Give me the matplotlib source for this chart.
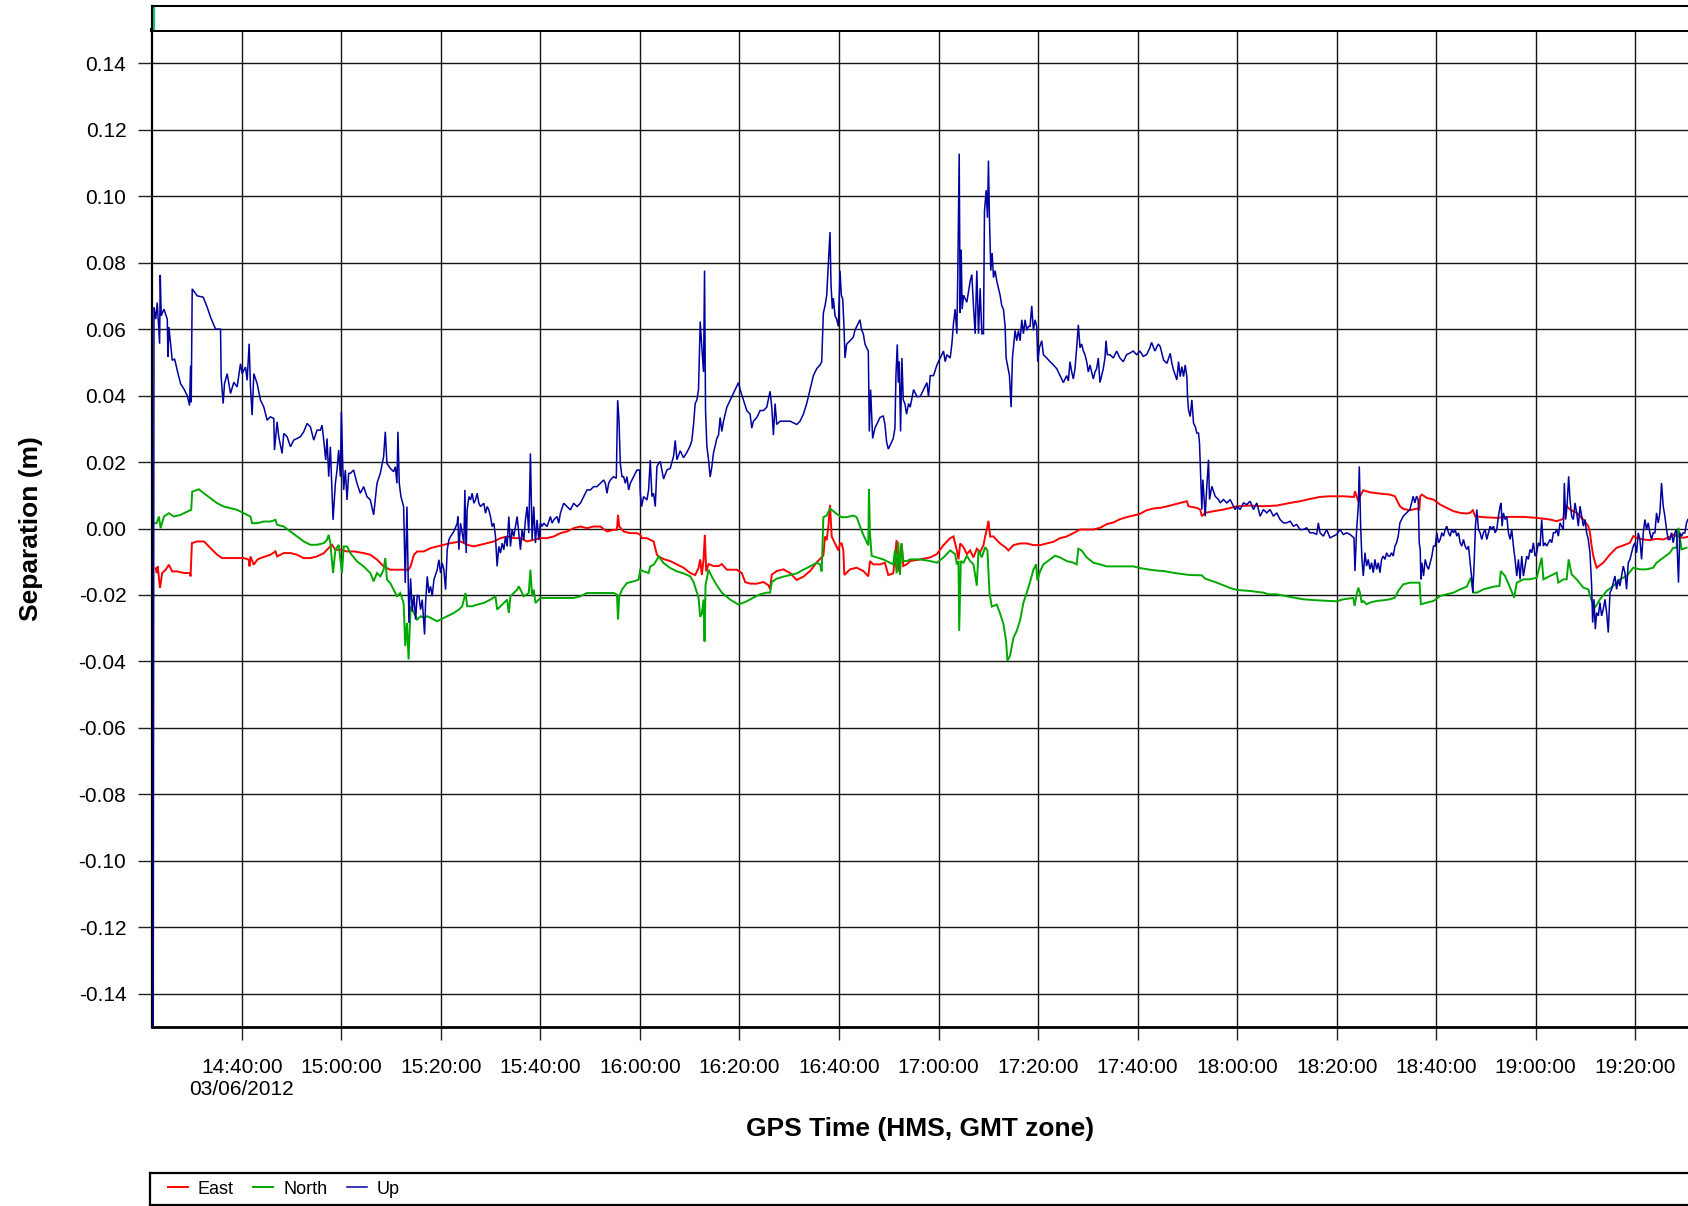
import numpy as np
import pandas as pd
import matplotlib
matplotlib.use("Agg")
import matplotlib.pyplot as plt
from matplotlib.ticker import FixedLocator, FormatStrFormatter

plt.rcParams['font.family'] = ['Liberation Sans', 'DejaVu Sans']

# ---------------- data ----------------
DATE = "2012-06-03"
date_label = "03/06/2012"
start_clock = "14:00:00"          # minutes below are counted from this clock time

east_min = [22.7, 22.9, 23.1, 23.55, 24.0, 24.7, 25.35, 26.0, 27.0, 28.4, 29.57, 29.7, 29.97, 31.0, 32.4, 33.7,
            35.05, 36.05, 37.7, 39.1, 40.4, 41.4, 41.54, 41.74, 42.4, 43.1, 43.75, 45.75, 46.76, 47.1, 48.4, 49.8,
            51.1, 52.4, 53.8, 55.1, 56.5, 57.1, 58.13, 58.8, 59.8, 61.1, 62.5, 64.5, 65.8, 67.2, 68.5, 69.8, 71.2,
            72.5, 73.5, 73.91, 74.58, 75.25, 76.59, 77.93, 79.26, 80.6, 81.94, 83.95, 85.28, 86.62, 87.96, 89.3,
            90.64, 91.97, 93.31, 94.65, 95.99, 97.32, 98.66, 100.0, 101.34, 102.68, 104.01, 105.35, 106.69, 108.03,
            109.36, 110.7, 112.04, 113.38, 114.72, 115.38, 115.59, 115.85, 116.72, 118.06, 119.4, 120.07, 120.4,
            121.4, 122.74, 123.41, 123.75, 124.75, 126.09, 127.43, 128.76, 130.1, 131.1, 131.77, 132.11, 132.44,
            132.78, 133.04, 133.31, 133.78, 134.78, 135.79, 136.45, 137.46, 139.46, 140.47, 141.14, 142.14, 143.48,
            144.82, 145.82, 146.15, 146.49, 147.49, 148.83, 150.17, 151.5, 152.84, 154.18, 155.52, 156.52, 156.86,
            157.19, 157.53, 157.86, 158.19, 158.53, 159.2, 159.87, 160.2, 160.54, 160.87, 161.07, 162.21, 163.55,
            164.88, 165.89, 166.22, 166.89, 168.23, 169.23, 169.9, 170.9, 171.57, 171.91, 172.58, 172.91, 173.58,
            174.31, 176.32, 178.33, 179.67, 181.0, 182.34, 183.01, 183.68, 184.01, 184.35, 185.02, 185.69, 186.35,
            187.02, 187.69, 188.36, 189.03, 189.36, 189.7, 190.03, 190.37, 191.04, 191.71, 192.37, 193.38, 194.05,
            195.05, 196.39, 197.73, 199.06, 200.4, 201.74, 203.08, 204.41, 205.75, 207.09, 208.43, 209.77, 211.1,
            212.44, 213.78, 215.12, 216.45, 217.79, 219.13, 220.47, 221.81, 223.14, 224.15, 224.55, 226.56, 228.56,
            229.9, 230.23, 231.91, 232.58, 232.91, 233.58, 235.25, 237.26, 240.0, 242.61, 245.28, 247.96, 250.64,
            252.64, 254.65, 256.66, 258.66, 261.34, 263.48, 263.68, 264.01, 264.35, 264.68, 265.35, 266.69, 268.7,
            270.7, 271.71, 272.71, 273.38, 274.72, 276.12, 276.6, 276.79, 277.12, 278.13, 279.46, 280.8, 282.14,
            283.48, 284.82, 286.15, 286.82, 287.36, 287.83, 289.5, 292.17, 294.85, 297.53, 300.2, 302.88, 304.21,
            305.55, 305.89, 306.89, 308.23, 309.57, 310.57, 310.9, 311.24, 311.57, 312.24, 313.58, 314.92, 316.25,
            317.59, 318.93, 319.6, 320.27, 321.61, 322.94, 324.28, 325.62, 326.96, 327.63, 328.29, 329.63, 330.57]
east_mm = [-12.0, -13.4, -11.4, -17.9, -13.4, -12.4, -10.9, -12.9, -12.9, -13.4, -13.4, -14.4, -4.4, -3.9, -3.9, -5.9,
           -7.9, -8.9, -8.9, -8.9, -8.9, -9.4, -11.4, -8.4, -10.9, -9.4, -8.9, -7.9, -6.9, -8.4, -7.4, -7.4,
           -7.9, -8.9, -8.9, -8.4, -7.4, -6.4, -4.9, -6.4, -6.4, -6.9, -6.9, -7.4, -7.9, -9.4, -11.4, -12.4, -12.4,
           -12.4, -12.4, -11.4, -7.9, -6.9, -6.9, -5.9, -5.4, -4.9, -4.4, -3.9, -4.9, -5.4, -4.9, -4.4,
           -3.9, -2.9, -2.4, -2.9, -2.9, -3.9, -3.4, -2.9, -2.9, -2.4, -1.4, -0.9, 0.1, 0.6,
           0.1, 0.6, 0.6, -0.9, -0.4, -0.4, 4.1, 0.6, -0.9, -1.4, -1.4, -1.9, -2.9,
           -2.9, -3.9, -7.9, -8.4, -9.2, -9.8, -10.8, -11.8, -13.4, -14.0, -11.9, -9.3, -14.0,
           -9.3, -1.9, -12.9, -10.7, -11.3, -11.3, -10.7, -12.4, -12.4, -13.4, -16.1, -16.6, -16.6,
           -16.1, -17.1, -18.2, -13.9, -12.8, -12.3, -13.4, -15.5, -14.5, -12.8, -10.2, -8.6, -8.1,
           -2.4, -3.5, 0.7, 7.1, -2.4, -4.5, -6.6, -4.5, -4.5, -6.6, -14.0, -12.3, -11.8,
           -12.8, -14.4, -9.8, -10.8, -10.8, -10.3, -14.0, -13.5, -3.5, -12.9, -4.5, -11.3, -10.8,
           -9.8, -9.3, -8.7, -7.7, -5.0, -2.9, -2.4, -6.6, -9.3, -4.5, -5.6, -7.7, -6.6,
           -8.7, -6.1, -7.1, -5.0, -2.4, -0.3, 2.3, -2.4, -2.4, -3.5, -4.5, -5.6, -6.6,
           -5.0, -4.5, -4.5, -5.0, -5.0, -4.5, -4.0, -2.9, -2.4, -1.4, -0.3, -0.3, -0.3,
           0.2, 1.3, 1.8, 2.8, 3.4, 3.9, 4.4, 5.5, 6.0, 6.2, 6.2, 6.9, 7.7,
           8.2, 6.7, 6.2, 5.7, 3.7, 4.7, 5.2, 5.7, 6.7, 6.9, 6.7, 6.9, 7.7,
           8.2, 8.9, 9.5, 9.7, 9.7, 9.5, 11.2, 9.7, 8.2, 9.7, 11.5, 10.9, 10.5,
           10.2, 9.7, 6.7, 5.9, 5.5, 6.0, 5.5, 9.7, 10.2, 9.2, 8.7, 7.2, 6.2,
           5.2, 4.7, 4.5, 4.7, 5.5, 3.7, 3.4, 3.2, 3.5, 3.5, 3.2, 2.7, 2.2,
           2.9, 7.2, 5.7, 4.7, 2.7, 0.7, -1.3, -5.3, -8.3, -11.8, -10.3, -7.8, -5.8,
           -5.1, -4.3, -2.3, -2.8, -3.3, -3.5, -3.1, -3.3, -2.5, -1.8, -2.3, -2.8, -2.5]

north_min = [22.45, 22.88, 23.34, 23.68, 24.35, 25.35, 26.35, 27.69, 29.03, 29.83, 30.03, 31.37, 32.37, 33.71, 35.05,
             36.39, 37.73, 39.06, 40.4, 41.74, 42.07, 43.08, 44.41, 45.75, 46.76, 47.09, 48.43, 49.77, 51.1, 52.44,
             53.78, 55.12, 56.46, 57.12, 57.46, 57.79, 58.33, 58.8, 59.46, 60.13, 60.47, 61.14, 61.81, 63.14, 64.48,
             65.82, 66.49, 67.16, 67.83, 68.49, 68.83, 69.16, 69.83, 70.5, 71.17, 71.84, 72.51, 72.84, 73.18, 73.51,
             73.91, 74.58, 75.25, 75.92, 76.59, 77.26, 77.93, 78.6, 79.26, 79.93, 80.6, 81.27, 81.94, 82.61, 83.61,
             84.28, 84.95, 85.28, 86.29, 87.29, 88.63, 89.97, 90.97, 91.3, 91.97, 93.31, 93.65, 93.98, 95.32, 95.65,
             96.66, 97.66, 97.99, 98.33, 98.66, 99.0, 100.0, 101.34, 104.01, 106.69, 108.03, 109.36, 112.04, 114.72,
             115.38, 115.59, 115.85, 116.39, 117.39, 118.73, 119.73, 120.07, 120.74, 121.74, 122.07, 122.74, 123.41,
             123.75, 124.75, 126.09, 127.43, 128.76, 130.1, 130.77, 131.44, 131.77, 132.11, 132.44, 132.78, 132.98,
             133.18, 133.78, 134.45, 135.45, 136.45, 138.13, 139.8, 141.47, 142.81, 144.15, 145.48, 146.15, 146.49,
             147.49, 148.83, 150.17, 151.5, 152.84, 154.18, 155.52, 156.19, 156.52, 156.86, 157.53, 158.19, 159.53,
             160.54, 161.54, 162.88, 163.55, 164.21, 164.88, 165.89, 166.02, 166.22, 166.56, 167.56, 168.9, 170.23,
             170.9, 171.24, 171.57, 171.91, 172.24, 172.58, 172.91, 173.58, 174.31, 176.32, 178.33, 179.67, 181.0,
             182.34, 183.34, 183.68, 184.01, 184.15, 184.48, 185.02, 185.69, 186.35, 187.02, 187.69, 188.03, 188.7,
             189.36, 189.83, 190.23, 190.7, 191.71, 192.37, 193.04, 193.58, 193.85, 194.38, 195.05, 195.72, 196.39,
             197.06, 197.73, 198.39, 199.06, 199.6, 199.87, 200.4, 201.07, 202.41, 203.41, 204.41, 205.75, 207.09,
             207.76, 208.09, 208.76, 209.77, 211.1, 212.44, 213.78, 215.79, 217.79, 219.13, 220.47, 222.47, 224.15,
             225.22, 227.89, 230.57, 232.91, 233.58, 235.92, 238.6, 240.0, 242.61, 245.28, 246.29, 247.96, 250.64,
             253.31, 255.99, 258.66, 260.0, 261.34, 263.34, 263.61, 264.01, 264.35, 264.68, 265.02, 265.35, 266.02,
             266.69, 268.03, 269.36, 270.7, 271.71, 272.37, 273.38, 274.72, 275.45, 276.66, 276.92, 278.13, 279.46,
             280.8, 282.14, 283.48, 284.82, 286.15, 286.96, 287.49, 288.16, 289.5, 291.51, 292.71, 292.98, 293.85,
             294.85, 295.65, 296.19, 297.53, 298.86, 300.2, 301.2, 301.54, 302.88, 304.21, 304.55, 305.55, 306.22,
             306.62, 307.22, 308.23, 309.57, 310.57, 311.24, 311.91, 312.91, 314.25, 315.59, 316.92, 318.26, 319.6,
             320.94, 322.27, 323.61, 324.28, 325.62, 326.96, 327.63, 328.29, 328.69, 329.3, 330.3]
north_mm = [1.6, 1.6, 3.6, 0.1, 3.6, 4.6, 3.6, 4.1, 5.1, 5.6, 11.1, 11.8, 10.6, 9.1, 7.6,
            6.6, 6.1, 5.6, 4.6, 3.6, 1.6, 1.6, 2.1, 2.1, 2.6, 1.1, 0.6, -0.9, -2.4, -3.9,
            -4.9, -4.9, -4.4, -3.4, -1.9, -4.4, -13.4, -6.4, -4.9, -13.4, -5.4, -5.4, -7.4, -9.9, -11.4,
            -13.4, -15.9, -13.4, -14.4, -12.4, -8.9, -15.4, -16.4, -18.4, -20.4, -19.4, -22.4, -35.4, -28.4, -39.4,
            -23.4, -25.4, -27.4, -26.4, -26.9, -26.4, -26.9, -27.4, -27.9, -27.4, -26.9, -26.4, -25.9, -25.4, -24.4,
            -23.4, -19.4, -23.4, -23.4, -22.9, -22.4, -21.4, -20.4, -24.4, -23.4, -21.4, -25.4, -20.4, -18.4, -17.4,
            -20.4, -19.4, -12.4, -20.4, -18.4, -22.4, -20.9, -20.9, -20.9, -20.9, -20.4, -19.4, -19.4, -19.4,
            -19.9, -27.4, -20.4, -18.4, -16.4, -15.9, -15.4, -12.4, -12.9, -13.4, -11.4, -10.9, -9.4,
            -8.4, -10.4, -11.9, -12.9, -13.5, -14.4, -16.1, -19.3, -20.8, -26.6, -25.6, -21.4, -34.0,
            -17.1, -12.4, -14.5, -17.1, -19.3, -21.4, -22.9, -21.9, -20.8, -19.8, -19.3, -19.3, -16.1,
            -15.1, -14.5, -14.0, -13.5, -12.4, -11.4, -10.3, -10.8, -12.9, 3.4, 3.9, 6.0, 4.4,
            3.4, 3.4, 3.9, 3.4, 0.7, -1.9, -5.1, 11.8, -1.4, -8.2, -8.7, -9.3, -10.3,
            -10.8, -6.6, -13.5, -4.0, -14.0, -4.5, -9.8, -9.8, -9.3, -9.3, -9.8, -10.3, -8.7,
            -6.6, -7.7, -10.8, -9.8, -30.8, -9.8, -10.3, -8.2, -9.8, -10.8, -17.2, -6.6, -8.7,
            -5.6, -6.6, -19.3, -23.5, -22.9, -25.6, -28.7, -33.9, -39.8, -38.2, -32.9, -30.8, -27.6,
            -22.3, -19.3, -16.1, -12.4, -10.8, -15.6, -12.9, -10.8, -9.3, -8.2, -8.7, -9.8, -10.3,
            -10.8, -6.1, -6.6, -8.7, -10.3, -10.8, -11.4, -11.4, -11.4, -11.4, -11.9, -12.4, -12.7,
            -12.8, -13.5, -14.0, -14.1, -15.1, -16.3, -17.9, -18.5, -18.8, -19.3, -19.8, -19.8, -20.6,
            -21.3, -21.6, -21.8, -21.9, -21.3, -20.9, -23.3, -19.8, -17.8, -19.3, -22.3, -21.8, -22.8,
            -22.3, -21.8, -21.6, -21.3, -20.8, -18.8, -16.8, -16.3, -16.3, -16.3, -22.8, -22.3, -21.8,
            -20.3, -19.8, -19.3, -18.3, -17.5, -14.8, -19.3, -19.3, -18.3, -17.5, -17.3, -12.8, -14.3,
            -17.8, -20.8, -16.3, -15.3, -15.3, -14.8, -8.8, -15.3, -14.3, -13.3, -16.3, -15.3, -15.3,
            -9.3, -13.8, -15.3, -17.8, -18.3, -21.8, -23.8, -21.3, -18.8, -17.3, -15.3, -14.3, -11.8,
            -12.3, -12.3, -11.8, -10.3, -8.8, -7.3, -5.8, -5.8, 0.2, -6.3, -5.8]

up_min = [22.2, 22.35, 22.7, 23.0, 23.48, 23.61, 23.8, 24.35, 25.02, 25.15, 25.35, 25.69, 26.02, 26.5, 27.02, 27.69,
          28.36, 29.03, 29.5, 29.7, 29.83, 30.03, 31.04, 32.24, 33.04, 33.71, 34.72, 35.72, 35.85, 36.25, 36.52,
          37.06, 37.73, 38.39, 39.06, 39.73, 40.07, 40.74, 41.07, 41.47, 41.74, 42.07, 42.41, 43.08, 43.75, 44.41,
          45.08, 45.75, 46.42, 46.56, 47.09, 47.42, 48.09, 48.43, 49.1, 49.77, 50.43, 51.1, 51.77, 52.44, 53.11,
          53.78, 54.45, 55.12, 55.79, 56.12, 56.46, 56.86, 57.12, 57.46, 57.79, 58.33, 58.8, 59.13, 59.46, 59.8,
          60.0, 60.27, 60.47, 60.8, 61.14, 61.47, 61.81, 62.47, 63.14, 63.81, 64.48, 65.15, 65.82, 66.49, 67.16,
          67.83, 68.49, 68.83, 69.16, 69.83, 70.5, 70.84, 71.17, 71.37, 71.64, 71.97, 72.51, 72.84, 73.18,
          73.58, 73.91, 74.25, 74.58, 74.92, 75.25, 75.59, 75.92, 76.25, 76.72, 76.92, 77.26, 77.59, 77.93, 78.26,
          78.6, 79.26, 79.6, 79.93, 80.27, 80.6, 80.94, 81.27, 81.61, 81.94, 82.61, 83.28, 83.41, 83.61, 83.95,
          84.28, 84.62, 84.82, 85.08, 85.28, 85.62, 85.95, 86.29, 86.62, 86.96, 87.29, 87.63, 87.96, 88.63, 88.96,
          89.3, 89.63, 89.97, 90.3, 90.64, 90.97, 91.3, 91.64, 91.97, 92.31, 92.64, 92.98, 93.31, 93.65, 93.98,
          94.31, 94.65, 94.98, 95.32, 95.65, 95.99, 96.32, 96.66, 96.99, 97.32, 97.66, 97.99, 98.33, 98.66, 99.0,
          99.33, 99.67, 100.0, 100.33, 100.67, 101.34, 102.01, 102.34, 102.68, 103.34, 103.68, 104.01, 104.68,
          105.35, 106.02, 106.69, 107.36, 108.03, 108.7, 109.36, 110.03, 110.7, 111.37, 112.04, 112.71, 113.04,
          113.38, 113.71, 114.05, 114.72, 115.25, 115.52, 115.79, 116.05, 116.39, 116.72, 117.06, 117.39, 117.73,
          118.06, 118.39, 118.73, 119.4, 119.93, 120.07, 120.33, 120.74, 121.4, 121.74, 122.07, 122.41, 122.74,
          123.08, 123.41, 123.75, 124.08, 124.75, 125.42, 126.09, 126.76, 127.09, 127.43, 128.09, 128.76, 129.43,
          130.1, 130.43, 130.77, 131.1, 131.44, 131.77, 132.11, 132.44, 132.78, 132.98, 133.18, 133.44, 133.78,
          134.11, 134.45, 134.78, 135.12, 135.45, 135.79, 136.12, 136.45, 136.79, 137.46, 138.13, 138.8, 139.46,
          139.8, 140.13, 140.8, 141.47, 142.14, 142.47, 142.81, 143.48, 144.15, 144.82, 145.48, 146.15, 146.49,
          146.82, 147.16, 147.49, 148.16, 148.83, 149.5, 150.17, 150.84, 151.5, 152.17, 152.84, 153.51, 154.18,
          154.85, 155.52, 156.19, 156.52, 156.86, 157.19, 157.53, 157.86, 158.19, 158.39, 158.66, 158.86, 159.2,
          159.53, 159.87, 160.2, 160.47, 160.74, 161.0, 161.2, 161.54, 162.21, 162.88, 163.21, 163.55, 163.88,
          164.21, 164.55, 164.88, 165.22, 165.55, 165.89, 166.09, 166.35, 166.76, 167.22, 167.56, 168.23, 168.9,
          169.23, 169.57, 169.9, 170.23, 170.9, 171.24, 171.44, 171.71, 171.91, 172.11, 172.37, 172.64, 172.91,
          173.24, 173.58, 173.98, 174.31, 174.98, 175.65, 176.32, 176.99, 177.66, 177.99, 178.33, 179.0, 179.67,
          180.33, 181.0, 181.34, 181.67, 182.34, 182.68, 183.01, 183.34, 183.68, 183.88, 184.15, 184.35, 184.55,
          184.75, 185.02, 185.69, 186.35, 186.69, 187.02, 187.36, 187.69, 188.03, 188.36, 188.7, 189.03, 189.23,
          189.57, 189.83, 190.03, 190.23, 190.5, 190.77, 191.04, 191.37, 191.71, 192.04, 192.37, 192.71, 193.04,
          193.38, 193.58, 193.85, 194.25, 194.58, 194.85, 195.05, 195.38, 195.72, 196.05, 196.39, 196.72, 197.06,
          197.39, 197.73, 198.06, 198.39, 198.73, 199.06, 199.4, 199.73, 199.93, 200.27, 200.74, 201.07, 201.74,
          202.41, 203.08, 203.75, 204.41, 205.08, 205.75, 206.09, 206.42, 206.76, 207.09, 207.42, 207.76, 208.09,
          208.43, 208.76, 209.1, 209.43, 209.77, 210.1, 210.43, 210.77, 211.1, 211.44, 211.77, 212.11, 212.44,
          212.78, 213.11, 213.44, 213.65, 213.91, 214.45, 215.12, 215.79, 216.45, 217.12, 217.79, 218.46, 219.13,
          219.8, 220.47, 221.14, 221.81, 222.47, 222.81, 223.48, 224.15, 224.55, 225.22, 225.89, 226.56, 226.89,
          227.22, 227.89, 228.23, 228.56, 228.9, 229.23, 229.57, 229.9, 230.03, 230.23, 230.57, 230.9, 231.24,
          231.57, 231.91, 232.24, 232.44, 232.71, 232.91, 233.11, 233.38, 233.58, 233.91, 234.25, 234.45, 234.92,
          235.59, 236.25, 236.59, 237.26, 237.93, 238.6, 239.26, 239.6, 240.0, 240.6, 241.27, 241.94, 242.61,
          243.28, 243.95, 244.62, 245.28, 245.95, 246.62, 247.29, 247.96, 248.63, 249.3, 249.97, 250.64, 251.3,
          251.97, 252.64, 253.31, 253.98, 254.65, 255.32, 255.99, 256.32, 256.66, 257.32, 257.99, 258.66, 259.33,
          260.0, 260.67, 261.34, 262.01, 262.68, 263.48, 263.68, 264.01, 264.35, 264.55, 264.82, 265.08, 265.35,
          265.69, 266.02, 266.35, 266.69, 267.02, 267.36, 267.69, 268.03, 268.36, 268.7, 269.03, 269.36, 269.7,
          270.03, 270.37, 270.7, 271.04, 271.37, 271.71, 272.04, 272.37, 272.71, 273.04, 273.38, 274.05, 274.72,
          275.38, 275.72, 276.05, 276.39, 276.59, 276.79, 276.92, 277.12, 277.46, 277.79, 278.13, 278.46, 278.8,
          279.13, 279.46, 279.8, 280.13, 280.47, 280.8, 281.14, 281.47, 281.81, 282.14, 282.47, 282.81, 283.14,
          283.48, 283.81, 284.15, 284.48, 284.82, 285.15, 285.48, 285.82, 286.15, 286.49, 286.82, 287.16, 287.36,
          287.63, 287.89, 288.16, 288.49, 288.83, 289.16, 289.5, 289.83, 290.17, 290.5, 290.84, 291.17, 291.51,
          291.84, 292.17, 292.51, 292.84, 293.04, 293.24, 293.51, 293.85, 294.18, 294.52, 294.85, 295.18, 295.52,
          295.85, 296.19, 296.52, 296.86, 297.19, 297.53, 297.86, 298.19, 298.53, 298.86, 299.2, 299.53, 299.87,
          300.2, 300.54, 300.87, 301.2, 301.54, 301.87, 302.21, 302.54, 302.88, 303.21, 303.55, 303.88, 304.21,
          304.55, 304.88, 305.22, 305.55, 305.75, 306.02, 306.29, 306.62, 306.89, 307.22, 307.56, 307.89, 308.23,
          308.56, 308.9, 309.23, 309.57, 309.9, 310.23, 310.57, 310.9, 311.24, 311.44, 311.71, 311.97, 312.24,
          312.58, 312.91, 313.24, 313.58, 313.91, 314.25, 314.58, 314.92, 315.25, 315.59, 315.92, 316.25, 316.59,
          316.92, 317.26, 317.59, 317.93, 318.26, 318.6, 318.93, 319.26, 319.6, 319.93, 320.27, 320.6, 320.94,
          321.27, 321.61, 321.94, 322.27, 322.61, 322.94, 323.28, 323.61, 323.95, 324.28, 324.62, 324.95, 325.28,
          325.62, 325.95, 326.29, 326.62, 326.96, 327.29, 327.63, 327.96, 328.29, 328.69, 328.96, 329.3, 329.63,
          329.97, 330.3, 330.57]
up_mm = [-150.0, 66.6, 63.0, 68.0, 55.6, 76.3, 64.0, 66.0, 63.0, 51.6, 60.6, 55.6, 50.6, 51.0, 47.6, 43.6,
         42.0, 40.0, 37.0, 49.0, 38.0, 72.1, 70.0, 69.6, 66.6, 63.6, 60.0, 60.0, 45.6, 37.6, 43.6,
         46.6, 40.6, 44.0, 42.6, 49.6, 46.6, 48.6, 44.6, 55.6, 42.6, 34.1, 46.6, 43.6, 38.6, 36.6,
         32.6, 33.6, 33.1, 23.6, 32.1, 27.6, 22.6, 28.6, 27.6, 24.6, 26.6, 27.1, 27.6, 29.1, 31.6,
         30.6, 26.6, 29.6, 29.6, 31.1, 26.6, 20.6, 27.1, 15.6, 24.6, 2.6, 13.6, 17.6, 23.6, 15.6,
         35.1, 19.6, 11.6, 17.6, 8.6, 16.6, 16.6, 17.6, 13.6, 10.6, 12.6, 9.6, 8.6, 4.1, 13.6,
         16.6, 21.6, 29.1, 19.6, 18.1, 17.1, 18.6, 13.6, 29.1, 13.6, 9.6, 6.6, -16.4, 6.6,
         -28.4, -15.0, -25.0, -20.0, -27.4, -20.0, -20.4, -24.4, -21.4, -31.9, -22.4, -14.4, -19.4, -17.4, -20.4,
         -15.4, -12.4, -9.4, -13.4, -10.4, -12.4, -18.4, -6.4, -3.4, -2.4, -0.9, 1.6, 3.6, -6.4, 1.6,
         -1.4, -4.4, 11.6, -7.4, 5.6, 9.6, 8.6, 10.6, 7.6, 8.6, 10.6, 7.6, 6.6, 7.6, 4.6,
         6.6, 5.6, 3.6, 0.6, 1.6, -2.4, -11.4, -5.4, -7.4, -4.4, -6.4, -2.4, -5.4, 3.6, -5.4,
         -0.4, -2.4, 0.6, 3.6, -1.4, -6.4, -0.4, -3.4, 2.6, 6.6, -1.4, 22.6, -3.4, 6.6, -4.4,
         2.6, -3.4, 1.6, 0.6, 1.6, 0.6, 3.6, 1.6, 2.6, 3.6, 1.6, 4.6, 7.6,
         6.6, 5.6, 7.6, 6.6, 7.6, 9.6, 11.6, 11.6, 12.6, 12.6, 13.6, 14.6, 13.6,
         10.6, 13.6, 14.6, 15.6, 15.1, 38.6, 32.6, 19.6, 15.6, 15.6, 13.6, 15.6, 11.6,
         13.6, 14.6, 15.6, 17.6, 17.6, 10.6, 6.6, 9.6, 8.6, 11.6, 20.6, 9.6, 10.6,
         6.6, 18.6, 19.6, 20.2, 14.9, 17.6, 18.1, 21.8, 26.5, 20.7, 23.4, 21.3, 22.9,
         24.9, 26.5, 31.3, 37.6, 38.7, 41.8, 62.3, 54.4, 47.1, 77.6, 35.5, 24.9, 20.7,
         15.5, 18.6, 22.8, 24.9, 27.1, 28.1, 33.4, 29.2, 32.3, 36.5, 38.6, 40.7, 42.8,
         43.9, 41.8, 38.6, 35.5, 34.4, 30.2, 32.3, 33.4, 35.5, 35.5, 36.5, 41.3, 36.5,
         28.1, 37.6, 31.3, 32.3, 32.3, 32.3, 32.3, 31.8, 31.3, 32.3, 34.4, 37.6, 41.8,
         46.0, 48.1, 49.2, 50.2, 64.9, 67.0, 70.2, 79.7, 89.2, 73.5, 66.1, 69.3, 64.0,
         63.0, 60.8, 77.6, 70.2, 69.1, 60.8, 51.3, 55.5, 56.5, 57.6, 59.7, 60.8, 61.8,
         62.8, 59.7, 58.6, 55.5, 54.4, 53.4, 29.2, 41.8, 27.1, 30.2, 31.3, 33.4, 33.9,
         31.3, 26.0, 23.9, 24.9, 27.1, 30.2, 46.0, 55.4, 43.9, 50.2, 29.2, 51.3, 38.7,
         37.6, 34.4, 37.6, 36.5, 41.8, 39.7, 39.7, 41.8, 43.9, 39.7, 46.0, 46.0, 49.2,
         51.3, 53.4, 50.2, 52.3, 51.3, 55.5, 61.8, 66.0, 58.6, 77.6, 112.8, 64.9, 83.9,
         66.0, 70.2, 68.1, 74.4, 76.4, 67.0, 58.6, 77.6, 58.6, 72.3, 58.6, 58.6, 95.5,
         101.8, 93.5, 110.7, 93.5, 77.6, 82.9, 75.5, 77.6, 74.4, 72.3, 70.2, 67.0, 66.0,
         60.8, 51.3, 49.2, 46.0, 36.5, 51.3, 54.4, 59.6, 56.5, 59.6, 56.5, 62.8, 58.6,
         62.8, 59.6, 60.8, 60.8, 67.0, 59.6, 62.8, 60.8, 50.2, 54.4, 56.5, 52.3, 51.3,
         50.2, 49.2, 48.1, 46.0, 43.9, 46.0, 44.4, 50.2, 47.1, 45.0, 48.1, 54.4, 61.3,
         54.4, 55.5, 53.4, 52.3, 50.2, 47.1, 49.2, 47.1, 45.0, 47.1, 48.1, 51.3, 43.9,
         46.0, 48.1, 51.3, 56.5, 52.3, 52.3, 51.3, 53.4, 51.3, 50.2, 52.3, 52.8, 53.4,
         52.3, 53.4, 51.8, 52.3, 54.4, 56.0, 53.4, 55.5, 54.7, 50.7, 49.7, 52.7, 49.7,
         47.7, 44.7, 50.2, 45.7, 48.7, 45.7, 49.2, 45.7, 39.7, 35.7, 33.7, 38.7, 31.7,
         30.7, 28.7, 28.7, 25.7, 13.7, 5.7, 14.7, 8.7, 3.7, 12.7, 20.7, 8.7, 12.7,
         9.7, 8.7, 7.7, 8.7, 7.7, 8.7, 6.7, 5.7, 6.7, 5.7, 7.7, 7.2, 8.2,
         5.7, 7.7, 3.7, 5.7, 4.7, 5.7, 3.7, 4.7, 2.7, 1.7, 1.7, 2.2, 0.7,
         1.2, -0.3, -0.3, 0.2, -1.3, -1.3, -1.8, 1.7, -1.3, -2.3, -0.3, -2.8, -2.3,
         -1.8, -0.3, -1.8, -1.3, -1.8, -2.8, -12.8, -0.3, 6.7, 18.7, 0.7, -9.3, -14.3,
         -7.3, -11.3, -9.3, -12.3, -10.3, -13.3, -9.3, -12.3, -10.3, -13.3, -9.3, -8.3, -9.3,
         -7.3, -8.3, -8.3, -7.3, -8.3, -5.3, -4.3, -2.3, 1.7, 2.7, 3.7, 4.7, 5.7,
         9.7, 7.7, 9.7, 8.7, -4.3, -6.3, -15.3, -10.3, -14.3, -9.3, -11.3, -12.3, -10.3,
         -8.3, -5.3, -5.3, -1.3, -4.3, -3.3, -1.3, -2.3, -0.3, 0.7, -1.3, -2.3, -0.3,
         -1.3, -0.3, -2.3, -1.3, -4.3, -5.3, -3.3, -5.3, -6.3, -5.3, -10.3, -15.3, -19.3,
         -10.3, 0.7, 5.7, -0.3, -1.3, -3.3, -1.3, -0.3, -3.3, -1.3, 0.7, -0.3, 0.7,
         -1.3, -0.3, 3.7, 6.7, 7.7, 0.7, 4.7, 2.7, 3.7, -1.3, -3.3, -0.3, -5.3,
         -9.3, -14.3, -9.3, -15.3, -8.3, -14.3, -11.3, -8.3, -9.3, -6.3, -7.3, -4.3, -8.3,
         -7.3, -4.3, -5.3, 2.7, -5.3, -4.3, -5.3, -4.3, -3.3, -4.3, -1.3, -1.3, -0.3,
         -2.3, 1.7, 0.7, -0.3, 13.7, 2.7, 6.7, 15.7, 8.7, 3.7, 2.7, 7.7, 4.7,
         0.7, 6.7, 3.7, 0.7, 2.7, -1.3, -3.3, -7.3, -17.3, -28.3, -21.3, -30.3, -25.3,
         -26.3, -22.3, -26.3, -24.3, -21.3, -25.3, -31.3, -19.3, -18.3, -16.3, -14.3, -18.3, -15.3,
         -17.3, -14.3, -11.3, -13.3, -18.3, -10.3, -9.3, -7.3, -5.3, -4.3, -7.3, -1.3, -3.3,
         -9.3, -1.3, 2.7, -0.3, 1.7, -1.3, -3.3, -1.3, -1.3, 4.7, 1.7, 4.7, 13.7,
         6.7, 3.7, -0.3, -3.3, -3.3, -1.3, -4.3, -1.3, -0.3, -16.3, -1.3, -2.3, -1.3,
         -1.3, 1.7, 2.7]

series_names = ["East", "North", "Up"]
series_colors = ["#ff0000", "#00a800", "#0000a0"]
xtick_labels = ["14:40:00", "15:00:00", "15:20:00", "15:40:00", "16:00:00", "16:20:00", "16:40:00",
                "17:00:00", "17:20:00", "17:40:00", "18:00:00", "18:20:00", "18:40:00", "19:00:00", "19:20:00"]
ytick_values = [-0.14, -0.12, -0.10, -0.08, -0.06, -0.04, -0.02, 0.00, 0.02, 0.04, 0.06, 0.08, 0.10, 0.12, 0.14]
x_view_min = [21.95, 330.6]
y_view = [-0.15, 0.15]
xlabel = "GPS Time (HMS, GMT zone)"
ylabel = "Separation (m)"

# ---------------- figure ----------------
W, H = 1688, 1206
fig = plt.figure(figsize=(W / 100, H / 100), dpi=100)


def px_rect(l, t, r, b):
    return [l / W, 1 - b / H, (r - l) / W, (b - t) / H]


base = pd.Timestamp(f"{DATE} {start_clock}")


def to_time(mins):
    return base + pd.to_timedelta(np.asarray(mins, dtype=float), unit="min")


ax = fig.add_axes(px_rect(152, 30, 1688, 1027))
lines = []
for mins, vals, name, col, lw in [(east_min, east_mm, series_names[0], series_colors[0], 1.4),
                                  (north_min, north_mm, series_names[1], series_colors[1], 1.4),
                                  (up_min, up_mm, series_names[2], series_colors[2], 1.1)]:
    ln, = ax.plot(to_time(mins), np.asarray(vals) / 1000.0, color=col, lw=lw, label=name,
                  solid_joinstyle='miter', zorder=3)
    lines.append(ln)

ax.set_xlim(to_time(x_view_min[:1])[0], to_time(x_view_min[1:])[0])
ax.set_ylim(*y_view)

xt = pd.to_datetime([f"{DATE} {s}" for s in xtick_labels])
ax.set_xticks(xt)
ax.set_xticklabels([s + "\n" + date_label if i == 0 else s for i, s in enumerate(xtick_labels)],
                   linespacing=1.2)
ax.yaxis.set_major_locator(FixedLocator(ytick_values))
ax.yaxis.set_major_formatter(FormatStrFormatter("%.2f"))

ax.grid(True, color="#151515", lw=1.0)
ax.set_axisbelow(True)
ax.tick_params(axis='y', direction='out', length=10, width=1.0, labelsize=15, pad=8.5, color='#222')
ax.tick_params(axis='x', direction='out', length=9.5, width=1.0, labelsize=15, pad=12.5, color='#222')

ax.spines['right'].set_visible(False)
ax.spines['top'].set_linewidth(2.9)
ax.spines['left'].set_linewidth(1.6)
ax.spines['bottom'].set_linewidth(2.0)
for s in ax.spines.values():
    s.set_color('black')

ax.set_xlabel(xlabel, fontsize=19, fontweight='bold')
ax.xaxis.set_label_coords(0.5, -0.090)
ax.set_ylabel(ylabel, fontsize=19, fontweight='bold')
ax.yaxis.set_label_coords(-0.071, 0.5)

# thin strip above the plot
strip = fig.add_axes(px_rect(152, 6, 1688, 30))
strip.set_xlim(ax.get_xlim())
strip.set_ylim(0, 1)
strip.set_xticks([])
strip.set_yticks([])
strip.spines['right'].set_visible(False)
strip.spines['bottom'].set_visible(False)
strip.spines['top'].set_linewidth(1.5)
strip.spines['left'].set_linewidth(1.5)
strip.axvline(to_time(north_min[:1])[0], color="#14c47a", lw=1.6)

# legend box at the bottom
legax = fig.add_axes(px_rect(150, 1173, 1700, 1205))
legax.set_xticks([])
legax.set_yticks([])
for s in legax.spines.values():
    s.set_linewidth(1.6)
    s.set_color('black')
legax.legend(lines, series_names, loc='center left', bbox_to_anchor=(0.0115, 0.5), ncol=3, frameon=False,
             fontsize=13, handlelength=1.1, handletextpad=0.55, columnspacing=1.1,
             borderaxespad=0, borderpad=0)

fig.savefig("out.png", dpi=100)
